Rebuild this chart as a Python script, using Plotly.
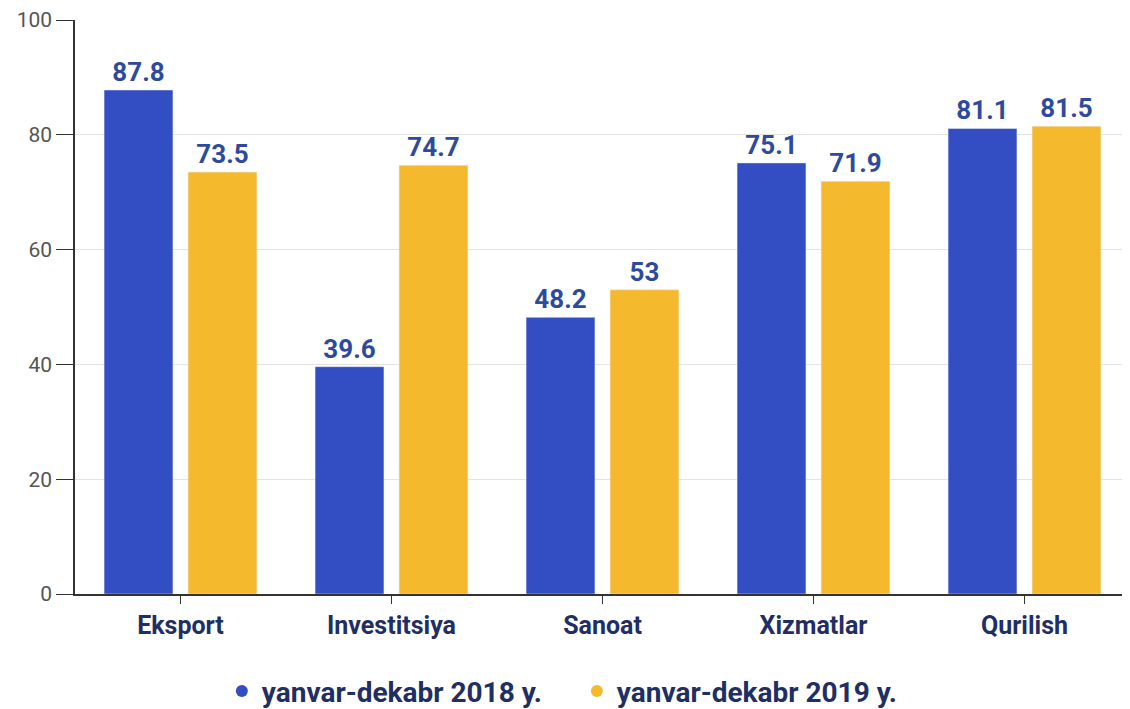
import plotly.graph_objects as go

categories = ["Eksport", "Investitsiya", "Sanoat", "Xizmatlar", "Qurilish"]
series_names = ["yanvar-dekabr 2018 y.", "yanvar-dekabr 2019 y."]
values_2018 = [87.8, 39.6, 48.2, 75.1, 81.1]
values_2019 = [73.5, 74.7, 53, 71.9, 81.5]
y_ticks = [0, 20, 40, 60, 80, 100]

blue = "#334dc2"
yellow = "#f5b92d"
label_color = "#2e4a9c"
navy = "#1f2e63"

fig = go.Figure()

for name, vals, col in [(series_names[0], values_2018, blue),
                        (series_names[1], values_2019, yellow)]:
    fig.add_trace(go.Bar(
        x=categories, y=vals, name=name, marker_color=col,
        text=[f"{v:g}" for v in vals], textposition="outside",
        textfont=dict(family="Roboto", size=26, color=label_color, weight="bold"),
        cliponaxis=False, showlegend=False,
    ))
    # round legend markers
    fig.add_trace(go.Scatter(
        x=[None], y=[None], mode="markers", name=name,
        marker=dict(color=col, size=19, symbol="circle"),
    ))

# page body has an 8px margin, so the figure is 8px smaller than the window
fig.update_layout(
    width=1122, height=701,
    margin=dict(l=67, r=0, t=12, b=115),
    plot_bgcolor="white", paper_bgcolor="white",
    barmode="group", bargap=0.204, bargroupgap=0.18,
    font=dict(family="Roboto"),
    legend=dict(orientation="h", xref="container", x=0.507, xanchor="center",
                yref="container", y=0.061, yanchor="top",
                font=dict(family="Roboto", size=28, color=navy, weight="bold"),
                itemsizing="constant", tracegroupgap=0, entrywidth=310),
)
fig.update_yaxes(
    range=[0, 100], tickvals=y_ticks, showgrid=True, gridcolor="#e3e3e3",
    showline=True, linecolor="#333333", linewidth=1.5,
    ticks="outside", ticklen=17, tickcolor="#333333",
    tickfont=dict(family="Roboto", size=21, color="#555555"),
    zeroline=False, automargin=False,
)
fig.update_xaxes(
    showline=True, linecolor="#333333", linewidth=1.5,
    ticks="outside", ticklen=8, tickcolor="#333333",
    tickfont=dict(family="Roboto", size=25, color=navy, weight="bold"),
    automargin=False,
)

fig.write_html("out.html")
